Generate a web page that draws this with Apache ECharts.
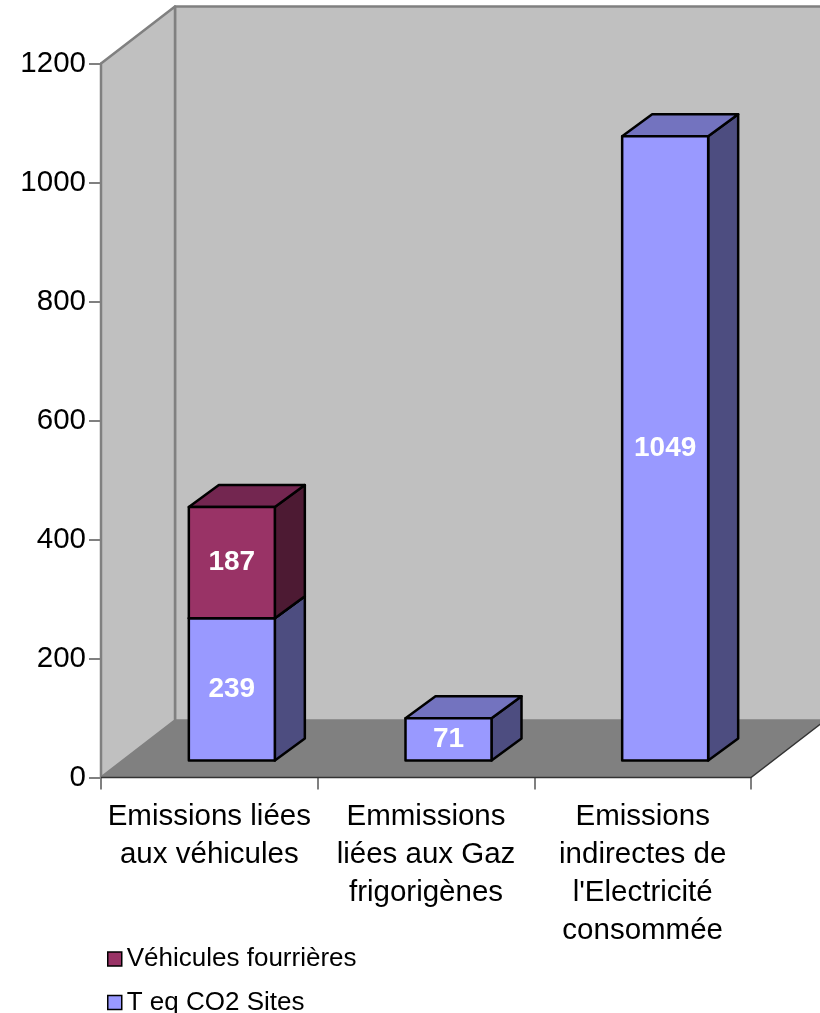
<!DOCTYPE html>
<html>
<head>
<meta charset="utf-8">
<style>html,body{margin:0;padding:0;background:#fff}#c{width:820px;height:1013px}</style>
<script src="https://cdn.jsdelivr.net/npm/echarts@6/dist/echarts.min.js"></script>
</head>
<body>
<div id="c"></div>
<script>
const categories = ["Emissions liées\naux véhicules", "Emmissions\nliées aux Gaz\nfrigorigènes", "Emissions\nindirectes de\nl'Electricité\nconsommée"];
const seriesSites = [239, 71, 1049];
const seriesVehicules = [187, null, null];
const nameSites = "T eq CO2 Sites";
const nameVehicules = "Véhicules fourrières";
const yTicks = [0, 200, 400, 600, 800, 1000, 1200];

const FONT = '"Liberation Sans", Arial, sans-serif';
const WALL = {dx: 74, dy: -57};
const BAR = {width: 86, dx: 30, dy: -22, offX: 22.5, offY: -17};
const chart = echarts.init(document.getElementById('c'), null, {renderer: 'canvas'});

function poly(pts, fill, stroke, w, z2) {
  return {type: 'polygon', z2: z2 || 0, shape: {points: pts},
    style: {fill: fill, stroke: stroke, lineWidth: w, lineJoin: 'round'}};
}
function wallsRender(params, api) {
  const g = params.coordSys;
  const L = g.x, R = g.x + g.width, T = g.y, B = g.y + g.height;
  const dx = WALL.dx, dy = WALL.dy, line = '#808080';
  return {type: 'group', silent: true, children: [
    poly([[L + dx, T + dy], [R + dx, T + dy], [R + dx, B + dy], [L + dx, B + dy]], '#C0C0C0', line, 2.5),
    poly([[L, B], [L + dx, B + dy], [L + dx, T + dy], [L, T]], '#C0C0C0', line, 2.5),
    poly([[L, B], [R, B], [R + dx, B + dy], [L + dx, B + dy]], '#808080', 'none', 0),
    {type: 'polyline', shape: {points: [[L, B], [R, B], [R + dx, B + dy]]}, style: {fill: 'none', stroke: '#333', lineWidth: 1.5}}
  ]};
}
function barRender(front, top, side) {
  return function (params, api) {
    const i = api.value(0), base = api.value(1), val = api.value(2);
    const p0 = api.coord([i, base]), p1 = api.coord([i, base + val]);
    const cx = p0[0] + BAR.offX, hw = BAR.width / 2;
    const l = cx - hw, r = cx + hw, b = p0[1] + BAR.offY, t = p1[1] + BAR.offY;
    const dx = BAR.dx, dy = BAR.dy, k = '#000', w = 2.5;
    return {type: 'group', silent: true, children: [
      poly([[r, b], [r + dx, b + dy], [r + dx, t + dy], [r, t]], side, k, w),
      poly([[l, t], [r, t], [r + dx, t + dy], [l + dx, t + dy]], top, k, w),
      poly([[l, b], [r, b], [r, t], [l, t]], front, k, w),
      {type: 'text', z2: 5, style: {x: cx, y: (b + t) / 2, text: String(val), fill: '#fff',
        font: 'bold 28px ' + FONT, align: 'center', verticalAlign: 'middle'}}
    ]};
  };
}
const sitesData = seriesSites.map((v, i) => [i, 0, v]);
const vehData = seriesVehicules.map((v, i) => v == null ? null : [i, seriesSites[i], v]).filter(Boolean);

function legendFor(name, color, top) {
  return {
    orient: 'vertical', left: 107, top: top, padding: 0, itemWidth: 14, itemHeight: 14,
    selectedMode: false,
    textStyle: {fontFamily: FONT, fontSize: 26, color: '#000', lineHeight: 20},
    data: [{name: name, icon: 'rect', itemStyle: {color: color, borderColor: '#000', borderWidth: 1.5}}]
  };
}

chart.setOption({
  animation: false,
  backgroundColor: '#fff',
  grid: {left: 101, top: 63.5, width: 650, height: 714, containLabel: false},
  legend: [legendFor(nameVehicules, '#993366', 946), legendFor(nameSites, '#9999FF', 989.5)],
  xAxis: {
    type: 'category', data: categories,
    axisLine: {show: false},
    axisTick: {show: true, length: 12, alignWithLabel: false, lineStyle: {color: '#808080', width: 2}},
    axisLabel: {color: '#000', fontFamily: FONT, fontSize: 29.5, lineHeight: 38, margin: 20, interval: 0}
  },
  yAxis: {
    type: 'value', min: yTicks[0], max: yTicks[yTicks.length - 1], interval: 200,
    splitLine: {show: false},
    axisLine: {show: true, lineStyle: {color: '#555', width: 2}},
    axisTick: {show: true, length: 12, lineStyle: {color: '#808080', width: 2}},
    axisLabel: {color: '#000', fontFamily: FONT, fontSize: 29.5, margin: 15, padding: [4, 0, 0, 0],
      formatter: function (v) { return String(v); }}
  },
  series: [
    {type: 'custom', name: 'walls', renderItem: wallsRender, data: [[0, 0, 0]], z: 1, clip: false, silent: true},
    {type: 'custom', name: nameSites, renderItem: barRender('#9999FF', '#7373BF', '#4D4D80'), data: sitesData, z: 2, clip: false,
      encode: {x: 0, y: 2}, itemStyle: {color: '#9999FF'}},
    {type: 'custom', name: nameVehicules, renderItem: barRender('#993366', '#732650', '#4D1A33'), data: vehData, z: 3, clip: false,
      encode: {x: 0, y: 2}, itemStyle: {color: '#993366'}}
  ]
});
</script>
</body>
</html>
